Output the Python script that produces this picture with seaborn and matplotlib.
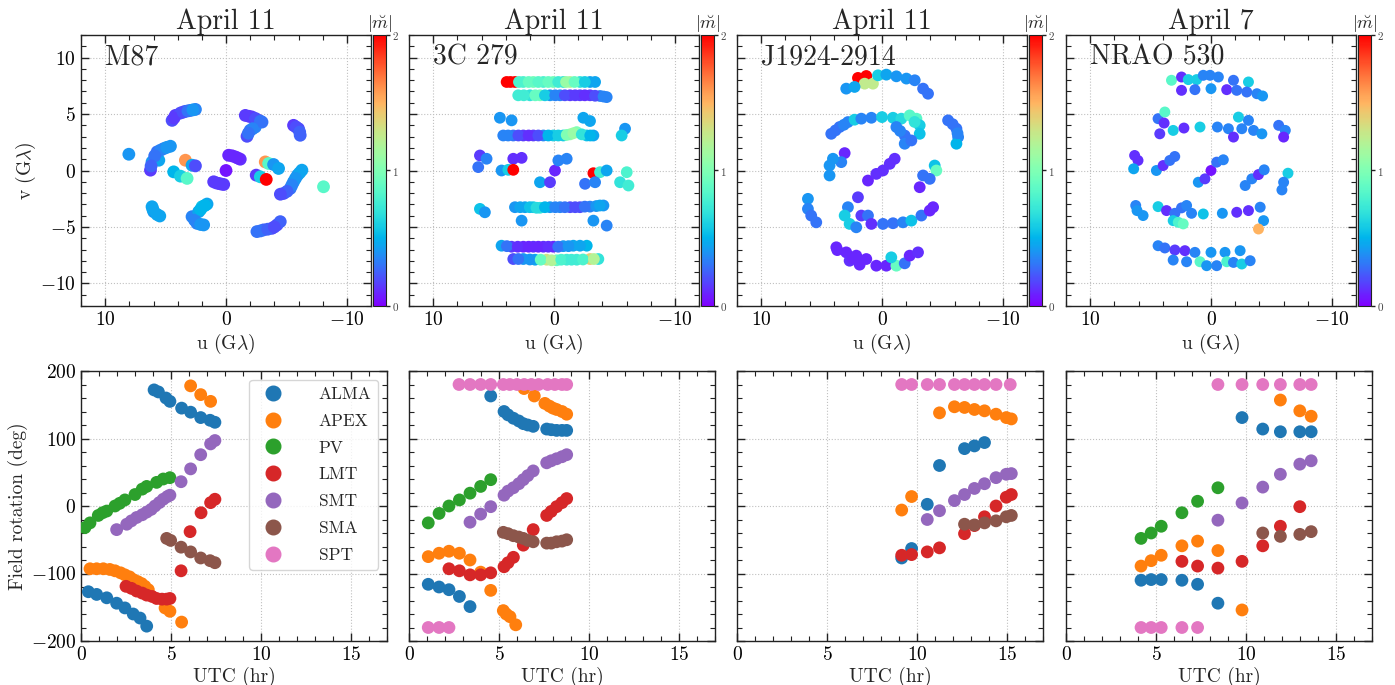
import matplotlib
matplotlib.use("Agg")
import numpy as np
import pandas as pd
import matplotlib.pyplot as plt
import matplotlib as mpl
import seaborn as sns
from matplotlib.ticker import MultipleLocator
from matplotlib.lines import Line2D

# ---------------- data ----------------
SOURCES = ["M87", "3C 279", "J1924-2914", "NRAO 530"]
DATES = ["April 11", "April 11", "April 11", "April 7"]
STATIONS = ["ALMA", "APEX", "PV", "LMT", "SMT", "SMA", "SPT"]
STATION_COLORS = ["#1f77b4", "#ff7f0e", "#2ca02c", "#d62728", "#9467bd", "#8c564b", "#e377c2"]

# uv coverage (u, v in G-lambda) and |m| per point
M87_U = [4.46, 4.19, 3.77, 3.36, 2.95, 2.53, -1.6, -2.15, -2.7, -2.98, -2.42, -2.0, -1.74,
         -5.59, -6.0, -6.14, 8.04, 6.25, 6.12, 5.7, 5.15, 4.6, 5.56, 3.36, 2.81, 2.53,
         4.33, 3.77, 3.22, 0.0, -0.22, -0.77, -1.18, 1.02, 0.6, 0.19,
         -2.5, -2.84, -3.25, -3.53, -3.33, -3.94, -4.35, -6.28, -5.92, -5.59, -5.32, -4.77,
         -8.07, 6.12, 5.98, 5.48, 2.81, 2.4, 1.85, 1.98, 1.57, 2.26,
         -2.56, -3.11, -3.8, -4.22, -4.49,
         4.3, 3.55, 3.15, 2.74, -1.9, -2.45, -2.85, -2.2, -1.85,
         5.42, 4.9, 5.9, 6.2, -6.1, -5.75, -5.45, -5.05, -4.5,
         2.6, 2.1, 1.75, 2.1, -2.85, -3.45, -4.0, 0.8, 0.4, -0.5, -0.98,
         6.05, 5.7, -5.8, -6.1]
M87_V = [4.44, 4.88, 5.09, 5.24, 5.32, 5.41, 4.88, 4.74, 4.44, 4.29, 3.85, 3.56, 3.03,
         4.0, 3.7, 3.12, 1.44, 0.03, 0.76, 1.65, 1.94, 2.15, 0.91, 0.91, 0.47, 0.41,
         -0.12, -0.5, -0.7, 0.0, 1.35, 1.2, 1.0, -1.0, -1.15, -1.24,
         -0.41, -0.56, 0.76, 0.62, -0.79, 0.53, 0.18, 0.03, -0.41, -1.0, -1.59, -2.03,
         -1.44, -3.21, -3.65, -4.03, -4.09, -4.68, -4.82, -3.21, -2.97, -3.65,
         -5.41, -5.26, -5.12, -4.82, -4.53,
         4.65, 5.17, 5.28, 5.37, 4.8, 4.6, 4.36, 3.7, 3.3,
         1.8, 2.05, 1.3, 0.4, -0.2, -0.7, -1.3, -1.85, -2.1,
         -4.4, -4.78, -3.1, -3.45, -5.35, -5.2, -5.0, -1.1, -1.2, 1.3, 1.1,
         -3.45, -3.9, 3.85, 3.4]
M87_M = [0.2, 0.15, 0.2, 0.25, 0.3, 0.35, 0.15, 0.15, 0.2, 0.3, 0.35, 0.3, 0.2,
         0.15, 0.2, 0.25, 0.4, 0.15, 0.4, 0.3, 0.35, 0.4, 0.45, 1.6, 0.45, 0.2,
         0.5, 0.6, 0.85, 0.05, 0.1, 0.1, 0.12, 0.15, 0.15, 0.15,
         0.15, 0.6, 1.6, 0.85, 2.0, 0.4, 0.45, 0.45, 0.4, 0.4, 0.3, 0.2,
         0.85, 0.45, 0.4, 0.45, 0.35, 0.35, 0.4, 0.55, 0.45, 0.45,
         0.3, 0.25, 0.2, 0.2, 0.25,
         0.15, 0.2, 0.3, 0.4, 0.15, 0.2, 0.3, 0.35, 0.3,
         0.35, 0.4, 0.3, 0.25, 0.45, 0.4, 0.35, 0.25, 0.2,
         0.35, 0.4, 0.5, 0.5, 0.3, 0.25, 0.2, 0.15, 0.15, 0.1, 0.1,
         0.45, 0.45, 0.2, 0.25]

C279_U = [3.92, 3.23, 2.54, 1.71, 0.88, 0.06, -0.77, -1.33, -2.15, -2.98, -3.4,
          2.96, 1.99, 1.16, 0.33, -0.5, -1.33, -2.15, -2.98, -3.81, -4.36,
          4.48, 3.51, -2.43, -2.98,
          4.2, 3.37, 2.54, 1.71, 0.88, 0.06, -0.77, -1.33, -1.88, -2.71, -3.26, -5.88, -5.6,
          6.13, 5.58, 6.27, 3.37, 2.68, 4.34, 3.78, 3.37, -0.08, -0.36, -1.05, 1.16, 0.33,
          -3.26, -3.81, -4.36, -2.57, -3.4, -6.02, -5.47, -6.16,
          3.23, 2.4, 1.71, 1.16, 0.33, -0.5, -1.33, -2.15, -2.98, -4.09, 6.13, 5.72, 2.68, -3.26, -4.36,
          4.34, 3.51, 2.54, 1.71, 0.88, 0.06, -0.77, -1.6, -2.71,
          3.37, 2.54, 1.57, 0.61, -0.22, -1.05, -1.88, -2.98, -3.67,
          3.6, 2.9, 2.1, 1.3, 0.47, -0.35, -1.0, -1.7, -2.55,
          2.5, 1.55, 0.75, -0.1, -0.9, -1.75, -2.55, -3.4, -4.1,
          3.8, 2.95, 2.1, 1.3, 0.47, -0.35, -1.05, -1.6, -2.3, -3.0,
          2.8, 2.0, 1.45, 0.75, -0.1, -0.9, -1.75, -2.55, -3.5, -3.8,
          3.9, 3.0, 2.1, 1.3, 0.47, -0.35, -1.2, -2.15,
          2.95, 2.0, 1.1, 0.2, -0.6, -1.45, -2.4, -3.3]
C279_V = [7.84, 7.84, 7.84, 7.84, 7.84, 7.84, 7.84, 7.84, 7.84, 7.84, 7.84,
          6.66, 6.66, 6.66, 6.66, 6.66, 6.66, 6.66, 6.66, 6.6, 6.5,
          4.67, 4.44, 4.67, 4.38,
          3.1, 3.1, 3.1, 3.1, 3.1, 3.1, 3.1, 3.2, 3.4, 3.1, 3.1, 3.7, 3.1,
          1.33, 1.04, 0.3, 1.04, 1.12, 0.0, 0.06, 0.06, 0.0, 0.89, 1.04, -1.04, -1.04,
          -0.24, -0.15, 0.0, -1.18, -1.04, -0.15, -1.04, -1.33,
          -3.25, -3.25, -3.25, -3.3, -3.25, -3.25, -3.25, -3.25, -3.2, -3.1, -3.4, -3.7, -4.44, -4.44, -4.88,
          -6.66, -6.75, -6.75, -6.75, -6.75, -6.75, -6.7, -6.66, -6.66,
          -7.84, -7.84, -7.9, -7.9, -7.95, -7.9, -7.9, -7.84, -7.84,
          7.84, 7.84, 7.84, 7.84, 7.84, 7.84, 7.84, 7.84, 7.84,
          6.66, 6.66, 6.66, 6.66, 6.66, 6.66, 6.66, 6.62, 6.55,
          3.1, 3.1, 3.1, 3.1, 3.1, 3.1, 3.15, 3.3, 3.2, 3.1,
          -3.25, -3.25, -3.3, -3.25, -3.25, -3.25, -3.25, -3.2, -3.15, -3.1,
          -6.7, -6.75, -6.75, -6.75, -6.75, -6.75, -6.7, -6.66,
          -7.84, -7.88, -7.9, -7.95, -7.9, -7.9, -7.88, -7.84]
C279_M = [2.0, 2.0, 0.8, 0.95, 0.8, 0.95, 0.7, 1.2, 0.7, 0.45, 0.45,
          0.75, 0.7, 0.95, 0.4, 0.35, 0.15, 0.15, 0.15, 0.35, 0.35,
          0.4, 0.4, 0.45, 0.45,
          0.35, 0.3, 0.15, 0.15, 0.35, 0.6, 0.6, 1.1, 1.0, 0.55, 0.45, 0.4, 0.6,
          0.15, 0.35, 0.3, 0.12, 0.12, 0.4, 0.6, 2.0, 0.1, 0.35, 0.35, 0.45, 0.15,
          2.0, 0.75, 0.45, 0.3, 0.35, 0.8, 0.7, 0.75,
          0.4, 0.45, 0.6, 0.7, 0.4, 0.35, 0.2, 0.2, 0.35, 0.4, 0.55, 0.4, 0.4, 0.4, 0.35,
          0.45, 0.15, 0.1, 0.12, 0.12, 0.1, 0.4, 0.45, 0.5,
          0.2, 0.4, 0.45, 1.3, 0.9, 0.75, 0.75, 1.4, 0.7,
          2.0, 0.8, 0.9, 0.85, 0.9, 0.75, 1.1, 0.9, 0.6,
          0.75, 0.9, 0.6, 0.35, 0.2, 0.15, 0.12, 0.2, 0.35,
          0.35, 0.2, 0.12, 0.2, 0.5, 0.6, 1.0, 1.1, 0.7, 0.5,
          0.45, 0.55, 0.65, 0.5, 0.35, 0.3, 0.2, 0.3, 0.4, 0.45,
          0.3, 0.12, 0.1, 0.1, 0.12, 0.3, 0.4, 0.45,
          0.3, 0.4, 0.9, 1.2, 0.8, 0.75, 0.8, 1.2]

J1924_U = [1.99, 1.3, 1.44, 0.75, 0.33, -0.36, -1.19, -2.02, -2.71, 2.96, 2.27, -3.4, -3.81,
           4.2, 3.51, 2.82, 2.27, 1.71, 0.88, 0.0, -0.91, -1.6, -2.29, -2.85, -3.12, -3.12,
           -1.19, -1.88, -1.88, -2.43, -5.47, -6.16, -6.3, -6.16,
           3.09, 3.37, 4.34, 4.34, 4.06, 1.16, 0.47, -0.08, -0.64, -1.05,
           -4.36, -4.5, -3.95, -3.4, -3.12, 6.13, 6.13, 5.86, 5.44,
           1.99, 2.82, 3.09, 2.68, 2.13, 1.71, 1.16, 0.88, -0.08, -0.91, -1.74, -2.43, -3.26, -3.95, -4.23,
           3.78, 2.96, 2.13, 1.3, 0.47, -0.36, -1.19, -1.88, -0.77, -2.29, -2.98, 2.68, 1.85,
           3.85, 3.15, -1.5, -2.7, -5.85, -6.25, 3.7, 2.45]
J1924_V = [8.2, 8.37, 7.69, 7.69, 8.43, 8.49, 8.34, 8.14, 7.99, 7.25, 7.4, 7.25, 6.8,
           3.25, 3.85, 4.29, 4.5, 4.59, 4.67, 4.73, 4.67, 4.59, 4.88, 4.59, 4.0, 3.25,
           3.85, 3.1, 2.37, 2.66, 4.44, 3.7, 2.96, 2.37,
           1.54, 0.74, 0.44, -0.44, 1.04, -0.89, -0.3, 0.0, 0.59, 1.04,
           0.44, 0.0, -0.74, -0.44, -1.48, -2.51, -3.4, -3.99, -4.59,
           -2.37, -3.25, -3.99, -4.73, -5.03, -3.99, -3.99, -4.73, -4.73, -4.67, -4.59, -4.44, -3.99, -3.55, -3.25,
           -6.8, -7.25, -7.54, -7.84, -8.43, -8.43, -8.43, -8.22, -7.69, -7.54, -7.25, -7.99, -8.34,
           3.55, 4.05, 3.5, 4.3, 4.1, 3.3, -7.05, -7.75]
J1924_M = [2.0, 2.0, 1.25, 1.25, 0.6, 0.45, 0.4, 0.4, 0.35, 0.4, 0.45, 0.3, 0.3,
           0.3, 0.3, 0.35, 0.6, 0.35, 0.35, 0.6, 0.6, 0.65, 0.85, 0.85, 0.6, 0.55,
           0.35, 0.3, 0.35, 0.3, 0.3, 0.3, 0.35, 0.5,
           0.1, 0.35, 0.4, 0.4, 0.4, 0.1, 0.12, 0.12, 0.12, 0.12,
           0.55, 0.9, 0.3, 0.3, 0.1, 0.4, 0.35, 0.3, 0.3,
           0.15, 0.35, 0.6, 0.6, 0.35, 0.15, 0.3, 0.12, 0.3, 0.3, 0.35, 0.55, 0.3, 0.1, 0.1,
           0.1, 0.1, 0.1, 0.1, 0.1, 0.1, 0.9, 0.3, 0.6, 0.1, 0.12, 0.12, 0.1,
           0.3, 0.35, 0.35, 0.7, 0.3, 0.35, 0.1, 0.1]

NRAO_U = [3.27, 2.44, 1.88, 1.19, 0.64, 0.08, -0.61, -1.86, -3.1,
          2.44, 1.33, 0.0, -1.3, -2.13, -2.96, -3.8, -4.27,
          4.38, 3.82, 3.88, 4.24, 3.13, 2.24, 0.91, -0.53, -1.44, -1.86, -2.27, -2.55, -3.1,
          -3.52, -4.21, -5.6, -6.15, -6.01,
          6.32, 6.04, 6.4, 4.52, 3.96, 3.41, 3.0, 1.05, 0.5, 0.0, -0.47, -1.02,
          -2.83, -3.38, -3.93, -4.4, -6.37, -6.01, -5.87,
          6.23, 6.12, 5.62, 4.38, 3.68, 2.99, 2.44, 2.02, 1.61, 3.13, 2.71, 2.3, 0.64, -0.94,
          -2.13, -3.1, -4.07, -4.35, -3.93,
          4.38, 3.82, 2.99, 2.16, 1.33, 0.0, -1.16, -2.41, 3.13, 2.02, 0.91, 0.36, -0.47, -1.3,
          -1.86, -2.55, -3.24]
NRAO_V = [7.99, 8.28, 8.05, 8.05, 8.43, 8.43, 8.28, 7.99, 7.84,
          7.1, 7.16, 7.25, 7.16, 7.1, 6.95, 6.8, 6.6,
          4.59, 5.18, 4.2, 3.25, 3.55, 3.76, 3.85, 3.85, 3.7, 2.96, 4.73, 3.7, 4.44,
          3.55, 3.25, 4.0, 3.55, 2.96,
          1.33, 0.89, 0.15, 0.0, 0.44, 0.89, 1.24, -1.04, -0.74, 0.0, 0.74, 0.95,
          -1.33, -0.74, -0.36, 0.06, -0.24, -1.04, -1.72,
          -3.1, -3.55, -3.99, -3.2, -3.55, -3.79, -3.31, -3.1, -3.79, -4.44, -4.59, -4.73, -3.85, -3.79,
          -3.7, -3.55, -3.25, -4.44, -5.18,
          -6.66, -6.86, -7.04, -7.1, -7.25, -7.25, -7.25, -7.1, -7.93, -8.08, -8.08, -8.43, -8.43, -8.08,
          -8.14, -8.28, -7.99]
NRAO_M = [0.85, 0.12, 0.6, 0.6, 0.35, 0.35, 0.35, 0.3, 0.6,
          0.12, 0.3, 0.4, 0.12, 0.3, 0.3, 0.35, 0.4,
          0.3, 0.85, 0.12, 0.15, 0.6, 0.12, 0.6, 0.35, 0.35, 0.12, 0.6, 0.35, 0.35,
          0.35, 0.4, 0.3, 0.35, 0.1,
          0.12, 0.12, 0.45, 0.4, 0.12, 0.3, 0.3, 0.4, 0.15, 0.05, 0.3, 0.35,
          0.35, 0.35, 0.12, 0.35, 0.6, 0.35, 0.35,
          0.35, 0.4, 0.4, 0.6, 0.12, 0.3, 0.3, 0.35, 0.35, 0.6, 0.8, 0.9, 0.55, 0.4,
          0.12, 0.12, 0.35, 0.4, 1.5,
          0.35, 0.3, 0.15, 0.12, 0.35, 0.4, 0.4, 0.4, 0.35, 0.35, 0.85, 0.4, 0.35, 0.8,
          0.35, 0.6, 0.35]

# field rotation (UTC hours, degrees) per station
M87_FR = {
    "ALMA": ([0.41, 0.87, 1.43, 1.98, 2.44, 2.9, 3.28, 3.65, 4.06, 4.3, 4.72, 4.94, 5.59, 6.09, 6.65, 7.17, 7.44],
             [-127, -131, -136, -144, -151, -160, -166, -178, 172, 169, 160, 155, 145, 139, 131, 127, 124]),
    "APEX": ([0.5, 0.87, 1.24, 1.6, 1.89, 2.2, 2.44, 2.7, 2.9, 3.15, 3.37, 3.55, 3.74, 4.67, 4.94, 5.59, 6.09, 6.65, 7.2],
             [-93, -93, -93, -94, -96, -99, -102, -105, -109, -112, -115, -119, -124, -151, -156, -172, 178, 165, 155]),
    "PV": ([0.22, 0.5, 0.96, 1.2, 1.43, 1.89, 2.15, 2.44, 3.0, 3.4, 3.65, 4.2, 4.57, 4.94],
           [-32, -25, -14, -10, -7.5, 0, 4, 9, 17, 25, 29, 35, 40, 42]),
    "LMT": ([2.5, 2.8, 3.09, 3.4, 3.65, 3.95, 4.2, 4.5, 4.76, 4.94, 5.56, 6.06, 6.67, 7.2, 7.44],
            [-119, -122, -126, -129, -132, -134, -137, -138, -138, -137, -96, -38, -10, 5, 10]),
    "SMT": ([1.98, 2.54, 2.8, 3.09, 3.4, 3.65, 3.9, 4.11, 4.35, 4.57, 4.8, 4.94, 5.56, 6.09, 6.65, 7.2, 7.44],
            [-35, -27, -22, -17, -13, -9, -5, 0, 5, 10, 14, 16, 36, 55, 76, 92, 97]),
    "SMA": ([4.76, 4.98, 5.56, 6.09, 6.65, 7.17, 7.44],
            [-48, -51, -61, -68, -77, -81, -84]),
    "SPT": ([], []),
}
C279_FR = {
    "ALMA": ([1.07, 1.67, 2.22, 2.8, 3.39, 4.54, 5.28, 5.5, 5.8, 6.1, 6.35, 6.6, 6.9, 7.65, 7.9, 8.2, 8.5, 8.76],
             [-116, -120, -124, -134, -149, 163, 140, 135, 130, 126, 122, 120, 118, 114, 113, 112, 112, 112]),
    "APEX": ([1.07, 1.67, 2.22, 2.8, 3.39, 3.98, 4.54, 5.24, 5.4, 5.61, 5.93, 6.39, 6.96, 7.55, 7.8, 8.0, 8.2, 8.5, 8.76],
             [-75, -70, -67, -70, -80, -98, -125, -155, -160, -164, -176, 174, 163, 152, 148, 145, 143, 140, 136]),
    "PV": ([1.07, 1.67, 2.22, 2.8, 3.39, 3.98, 4.54],
           [-25, -11, 0, 9, 19, 29, 39]),
    "LMT": ([2.22, 2.8, 3.39, 3.98, 4.54, 5.28, 5.5, 5.8, 6.35, 6.9, 7.65, 7.9, 8.2, 8.5, 8.76],
            [-93, -96, -102, -102, -99, -90, -84, -76, -58, -35, -14, -8, -1, 5, 11]),
    "SMT": ([3.39, 3.98, 4.54, 5.28, 5.5, 5.8, 6.1, 6.35, 6.6, 6.9, 7.65, 7.9, 8.2, 8.5, 8.76],
            [-24, -12, -1, 16, 22, 27, 33, 39, 45, 52, 64, 67, 70, 73, 76]),
    "SMA": ([5.24, 5.5, 5.8, 6.1, 6.35, 6.6, 6.9, 7.65, 7.9, 8.2, 8.5, 8.76],
            [-39, -41, -44, -46, -48, -51, -53, -55, -55, -53, -52, -50]),
    "SPT": ([1.07, 1.67, 2.22, 2.78, 3.39, 3.98, 4.54, 5.24, 5.6, 6.0, 6.4, 6.8, 7.2, 7.7, 8.1, 8.5, 8.76],
            [-180, -180, -180, 180, 180, 180, 180, 180, 180, 180, 180, 180, 180, 180, 180, 180, 180]),
}
J1924_FR = {
    "ALMA": ([9.15, 9.7, 10.57, 11.25, 12.64, 13.19, 13.75],
             [-77, -63, 2.5, 60, 85, 89, 94]),
    "APEX": ([9.15, 9.7, 11.25, 12.08, 12.64, 13.19, 13.75, 14.39, 14.96, 15.24],
             [-6, 14, 138, 147, 146, 143, 141, 136, 131, 129]),
    "PV": ([], []),
    "LMT": ([9.15, 9.7, 10.57, 11.25, 12.64, 13.19, 13.75, 14.39, 14.96, 15.24],
            [-73, -72, -68, -62, -41, -29, -16, 0, 13, 17]),
    "SMT": ([10.57, 11.25, 12.08, 12.64, 13.19, 13.75, 14.39, 14.96, 15.24],
            [-20, -7, 8, 17, 26, 33, 42, 47, 48]),
    "SMA": ([12.64, 13.19, 13.75, 14.39, 14.96, 15.24],
            [-27, -28, -25, -22, -16, -14]),
    "SPT": ([9.15, 9.7, 10.57, 11.25, 12.08, 12.64, 13.19, 13.75, 14.39, 15.18],
            [180, 180, 180, 180, 180, 180, 180, 180, 180, 180]),
}
NRAO_FR = {
    "ALMA": ([4.17, 4.73, 5.29, 6.44, 7.31, 8.44, 9.78, 10.93, 11.91, 12.99, 13.62],
             [-110, -109, -109, -110, -116, -144, 131, 114, 110, 110, 110]),
    "APEX": ([4.17, 4.73, 5.29, 6.44, 7.31, 8.44, 9.78, 11.91, 12.99, 13.62],
             [-89, -81, -73, -59, -52, -66, -154, 157, 141, 133]),
    "PV": ([4.17, 4.73, 5.29, 6.44, 7.31, 8.44],
           [-48, -40, -30, -10, 7, 27]),
    "LMT": ([6.44, 7.31, 8.44, 9.78, 10.93, 11.91, 12.99],
            [-82, -89, -92, -82, -59, -30, -1]),
    "SMT": ([8.44, 9.78, 10.93, 11.91, 12.99, 13.62],
            [-21, 4.5, 28, 47, 62, 67]),
    "SMA": ([10.93, 11.91, 12.99, 13.62],
            [-40, -45, -42, -38]),
    "SPT": ([4.17, 4.73, 5.29, 6.44, 7.31, 8.44, 9.78, 10.93, 11.91, 12.99, 13.62],
            [-180, -180, -180, -180, -180, 180, 180, 180, 180, 180, 180]),
}

UV_DATA = [(M87_U, M87_V, M87_M), (C279_U, C279_V, C279_M),
           (J1924_U, J1924_V, J1924_M), (NRAO_U, NRAO_V, NRAO_M)]
FR_DATA = [M87_FR, C279_FR, J1924_FR, NRAO_FR]
UV_SIZES = [85, 72, 72, 62]

# ---------------- style ----------------
sns.set_style("ticks")
plt.rcParams.update({
    "font.family": ["cmr10", "DejaVu Serif"],
    "mathtext.fontset": "cm",
    "axes.formatter.use_mathtext": True,
    "axes.unicode_minus": True,
    "xtick.direction": "in", "ytick.direction": "in",
    "xtick.top": True, "ytick.right": True,
    "xtick.major.size": 6, "ytick.major.size": 6,
    "xtick.minor.size": 3.5, "ytick.minor.size": 3.5,
    "xtick.major.width": 1.0, "ytick.major.width": 1.0,
    "xtick.minor.width": 0.8, "ytick.minor.width": 0.8,
    "axes.edgecolor": "#222222", "axes.linewidth": 1.0,
    "xtick.color": "#222222", "ytick.color": "#222222",
    "xtick.labelcolor": "black", "ytick.labelcolor": "black",
})

W, H = 1395, 685
fig = plt.figure(figsize=(W / 100, H / 100), dpi=100)

def box(x0, y0, x1, y1):
    return [x0 / W, 1 - y1 / H, (x1 - x0) / W, (y1 - y0) / H]

lefts = [81, 409, 737, 1066]
cmap = plt.get_cmap("rainbow")
norm = mpl.colors.Normalize(0, 2)
grid_kw = dict(ls=":", color="#c0c0c0", lw=0.8)

for i in range(4):
    x0 = lefts[i]
    # ---------- uv coverage ----------
    ax = fig.add_axes(box(x0, 35, x0 + 290, 306))
    u, v, m = UV_DATA[i]
    df = pd.DataFrame({"u": u, "v": v, "m": m})
    sns.scatterplot(data=df, x="u", y="v", hue="m", palette="rainbow", hue_norm=(0, 2),
                    s=UV_SIZES[i], linewidth=0, legend=False, ax=ax, zorder=3)
    ax.set_xlim(12, -12)
    ax.set_ylim(-12, 12)
    ax.xaxis.set_major_locator(MultipleLocator(10))
    ax.xaxis.set_minor_locator(MultipleLocator(2))
    ax.yaxis.set_major_locator(MultipleLocator(5))
    ax.yaxis.set_minor_locator(MultipleLocator(1))
    ax.grid(True, which="major", **grid_kw)
    ax.tick_params(which="both", labelsize=14)
    ax.set_xlabel(r"u (G$\lambda$)", fontsize=14, labelpad=2)
    if i == 0:
        ax.set_ylabel(r"v (G$\lambda$)", fontsize=14, labelpad=2)
    else:
        ax.set_ylabel("")
        ax.tick_params(labelleft=False)
    ax.set_title(DATES[i], fontsize=20, pad=3)
    ax.text(0.083, 0.965, SOURCES[i], transform=ax.transAxes, fontsize=20,
            ha="left", va="top", zorder=5)

    cax = fig.add_axes(box(x0 + 292, 35, x0 + 305, 306))
    sm = mpl.cm.ScalarMappable(norm=norm, cmap=cmap)
    cb = fig.colorbar(sm, cax=cax)
    cb.set_ticks([0, 1, 2])
    cb.outline.set_linewidth(0.8)
    cax.tick_params(which="major", direction="out", length=3, labelsize=8, pad=1,
                    labelcolor="#444444")
    cax.minorticks_off()
    cax.set_title(r"$|\breve{m}|$", fontsize=13, pad=1)

    # ---------- field rotation ----------
    bx = fig.add_axes(box(x0, 371, x0 + 306, 641))
    fr = FR_DATA[i]
    rows = []
    for st in STATIONS:
        ts, ds = fr[st]
        for t, d in zip(ts, ds):
            rows.append((t, d, st))
    fdf = pd.DataFrame(rows, columns=["t", "rot", "station"])
    sns.scatterplot(data=fdf, x="t", y="rot", hue="station", hue_order=STATIONS,
                    palette=STATION_COLORS, s=85, linewidth=0, legend=False, ax=bx, zorder=3)
    bx.set_xlim(0, 17)
    bx.set_ylim(-200, 200)
    bx.xaxis.set_major_locator(MultipleLocator(5))
    bx.xaxis.set_minor_locator(MultipleLocator(1))
    bx.yaxis.set_major_locator(MultipleLocator(100))
    bx.yaxis.set_minor_locator(MultipleLocator(20))
    bx.grid(True, which="major", **grid_kw)
    bx.tick_params(which="both", labelsize=14)
    bx.set_xlabel("UTC (hr)", fontsize=14, labelpad=2)
    if i == 0:
        bx.set_ylabel("Field rotation (deg)", fontsize=14, labelpad=2)
        handles = [Line2D([], [], marker="o", ls="none", color=c, markersize=10.5)
                   for c in STATION_COLORS]
        bx.legend(handles, STATIONS, loc="upper right", fontsize=12.5, labelspacing=0.66,
                  handletextpad=1.6, borderpad=0.4, framealpha=0.8, edgecolor="#cccccc")
    else:
        bx.set_ylabel("")
        bx.tick_params(labelleft=False)

fig.savefig("out.png", dpi=100)
